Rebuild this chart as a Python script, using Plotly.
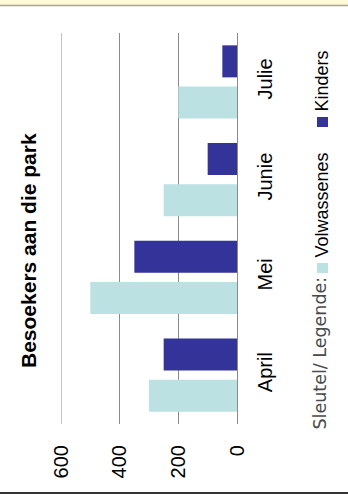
import plotly.graph_objects as go

months = ["April", "Mei", "Junie", "Julie"]
volwassenes = [300, 500, 250, 200]
kinders = [250, 350, 100, 50]
value_ticks = [0, 200, 400, 600]

title_text = "Besoekers aan die park"
legend_title = "Sleutel/ Legende:"
series_names = ["Volwassenes", "Kinders"]
colors = ["#BBE1E3", "#333399"]

W, H = 348, 494
L, R, T, B = 61, 237, 33, 424  # plot area in pixels


def px(x):
    return (x - L) / (R - L)


def py(y):
    return (B - y) / (B - T)


fig = go.Figure()
fig.add_trace(go.Bar(y=months, x=volwassenes, orientation="h", name=series_names[0],
                     marker=dict(color=colors[0], line=dict(width=0))))
fig.add_trace(go.Bar(y=months, x=kinders, orientation="h", name=series_names[1],
                     marker=dict(color=colors[1], line=dict(width=0))))

font_main = "Liberation Sans, Arial, sans-serif"
grid_col = "#8a8a8a"

fig.update_layout(
    width=W, height=H,
    margin=dict(l=L, r=W - R, t=T, b=H - B, pad=0, autoexpand=False),
    paper_bgcolor="white", plot_bgcolor="white",
    barmode="group", bargap=0.16, bargroupgap=0.22,
    showlegend=False,
    font=dict(family=font_main, size=20, color="black"),
    xaxis=dict(range=[600, 0], tickvals=value_ticks, tickangle=-90,
               showgrid=True, gridcolor=grid_col, gridwidth=1,
               zeroline=True, zerolinecolor=grid_col, zerolinewidth=1,
               showline=False, ticks="", ticklabelstandoff=16, automargin=False,
               tickfont=dict(size=20, family=font_main)),
    yaxis=dict(type="category", side="right", tickangle=-90,
               showgrid=False, zeroline=False, showline=False, ticks="",
               ticklabelstandoff=14, automargin=False,
               tickfont=dict(size=20, family=font_main)),
)

annotations = [
    dict(text="<b>" + title_text + "</b>", x=px(28), y=py(251), xref="paper", yref="paper",
         textangle=-90, showarrow=False, xanchor="center", yanchor="middle",
         font=dict(size=21, family=font_main, color="black")),
    dict(text=legend_title, x=px(320), y=py(432), xref="paper", yref="paper",
         textangle=-90, showarrow=False, xanchor="center", yanchor="bottom",
         font=dict(size=17.5, family="DejaVu Sans", color="#4a4a4a")),
    dict(text=series_names[0], x=px(321), y=py(260), xref="paper", yref="paper",
         textangle=-90, showarrow=False, xanchor="center", yanchor="bottom",
         font=dict(size=18, family=font_main, color="black")),
    dict(text=series_names[1], x=px(321), y=py(114), xref="paper", yref="paper",
         textangle=-90, showarrow=False, xanchor="center", yanchor="bottom",
         font=dict(size=18, family=font_main, color="black")),
]
fig.update_layout(annotations=annotations)

shapes = [
    # top pale strip and rule
    dict(type="rect", xref="paper", yref="paper", x0=px(0), x1=px(W), y0=py(0), y1=py(5),
         fillcolor="#FFF9D6", line=dict(width=0), layer="below"),
    dict(type="line", xref="paper", yref="paper", x0=px(0), x1=px(W), y0=py(5.5), y1=py(5.5),
         line=dict(color="#A8A490", width=1.5)),
    # bottom rule
    dict(type="line", xref="paper", yref="paper", x0=px(0), x1=px(W), y0=py(493), y1=py(493),
         line=dict(color="#333333", width=2)),
    # outermost gridline at the far end of the value axis
    dict(type="line", xref="x", yref="paper", x0=value_ticks[-1], x1=value_ticks[-1], y0=0, y1=1,
         line=dict(color=grid_col, width=1), layer="below"),
    # legend swatches
    dict(type="rect", xref="paper", yref="paper", x0=px(317), x1=px(328), y0=py(263), y1=py(273),
         fillcolor=colors[0], line=dict(width=0)),
    dict(type="rect", xref="paper", yref="paper", x0=px(317), x1=px(328), y0=py(117), y1=py(127),
         fillcolor=colors[1], line=dict(width=0)),
]
fig.update_layout(shapes=shapes)

fig.write_html("out.html", config={"displayModeBar": False},
               post_script="document.body.style.margin='0';")
